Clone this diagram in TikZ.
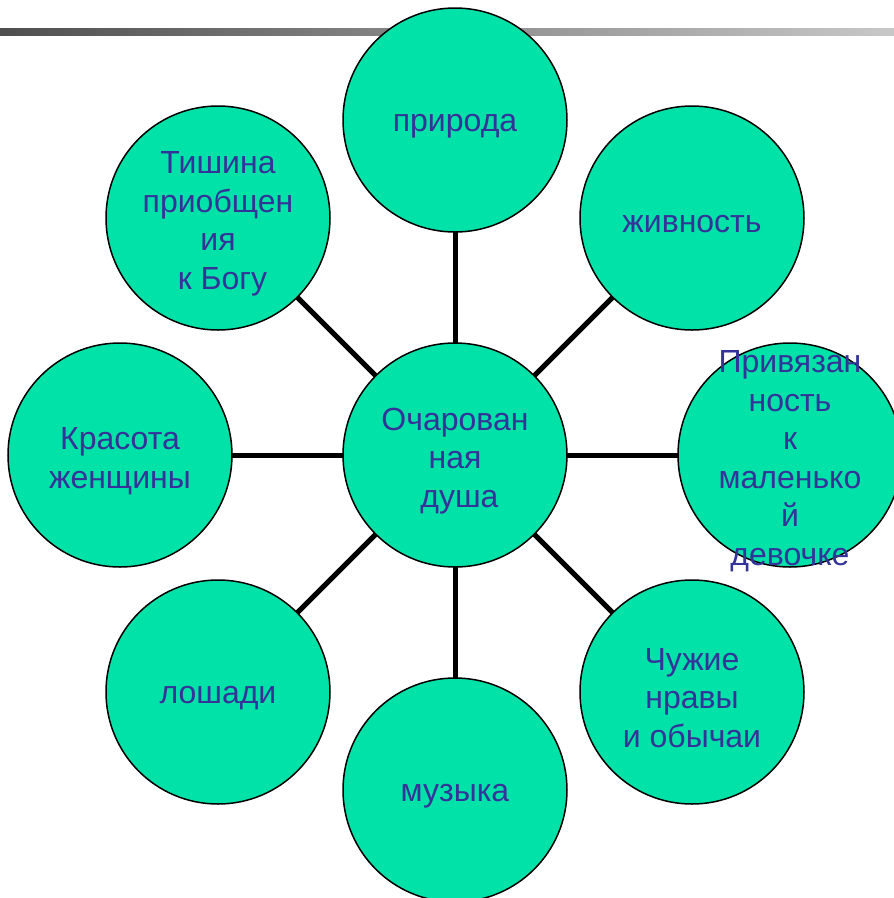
\documentclass[tikz,border=0pt]{standalone}
\usepackage{fontspec}
\setmainfont{Liberation Sans}
\usetikzlibrary{backgrounds}
\definecolor{bubfill}{RGB}{0,226,168}
\definecolor{txtcol}{RGB}{51,51,153}
\definecolor{barleft}{RGB}{79,79,79}
\definecolor{barright}{RGB}{200,200,200}
\begin{document}
\begin{tikzpicture}[x=1pt,y=-1pt,
  bub/.style={circle,draw=black,line width=1.5pt,fill=bubfill,minimum size=224pt,inner sep=0pt},
  lbl/.style={align=center,text=txtcol,font=\fontsize{32}{38.5}\selectfont,inner sep=0pt,yshift=-6pt},
  conn/.style={draw=black,line width=5pt}]
\useasboundingbox (0,0) rectangle (894,898);
\node[bub] (c) at (455,455) {};
\node[bub] (n) at (455,120) {};
\node[bub] (ne) at (692,218) {};
\node[bub] (e) at (790,455) {};
\node[bub] (se) at (692,692) {};
\node[bub] (s) at (455,790) {};
\node[bub] (sw) at (218,692) {};
\node[bub] (w) at (120,455) {};
\node[bub] (nw) at (218,218) {};
\begin{scope}[on background layer]
  \shade[left color=barleft,right color=barright] (0,28) rectangle (894,35);
  \foreach \t in {n,ne,e,se,s,sw,w,nw} \draw[conn] (c.center) -- (\t.center);
\end{scope}
\node[lbl] (tc) at (c) {Очарован\\ная\\\ душа};
\node[lbl] (tn) at (n) {природа};
\node[lbl] (tne) at (ne) {живность};
\node[lbl] (te) at (e) {Привязан\\ность\\к\\маленько\\й\\девочке};
\node[lbl] (tse) at (se) {Чужие\\нравы\\и обычаи};
\node[lbl] (ts) at (s) {музыка};
\node[lbl] (tsw) at (sw) {лошади};
\node[lbl] (tw) at (w) {Красота\\женщины};
\node[lbl] (tnw) at (nw) {Тишина\\приобщен\\ия\\\ к Богу};
\end{tikzpicture}
\end{document}
